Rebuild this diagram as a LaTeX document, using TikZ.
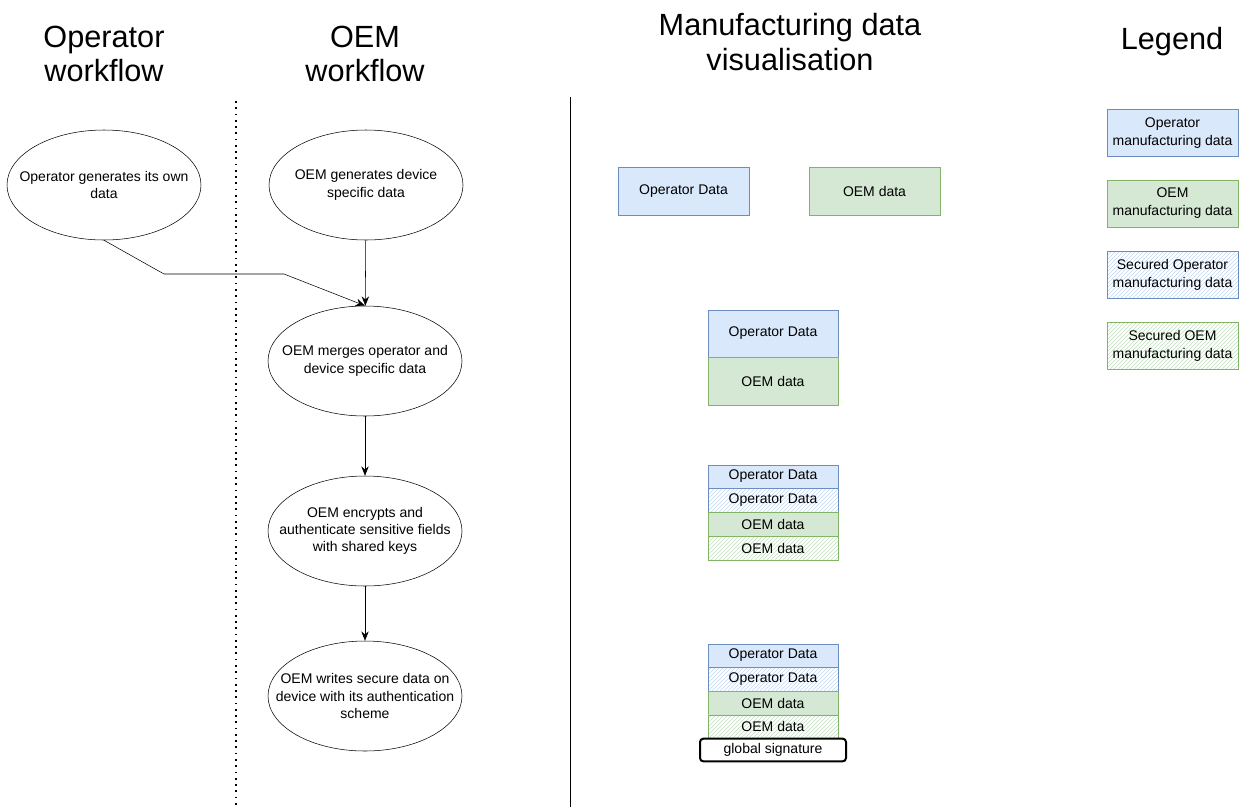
\documentclass[tikz,border=0pt]{standalone}
\usepackage{fontspec}
\setmainfont{Liberation Sans}
\usetikzlibrary{shapes.geometric}
\usetikzlibrary{arrows.meta}
\usetikzlibrary{patterns}

\definecolor{opfill}{HTML}{DAE8FC}
\definecolor{opline}{HTML}{6C8EBF}
\definecolor{oemfill}{HTML}{D5E8D4}
\definecolor{oemline}{HTML}{82B366}
\definecolor{ophatch}{HTML}{C2D5F0}
\definecolor{oemhatch}{HTML}{C3DDBF}

\tikzset{
  title/.style = {align=center, font=\fontsize{23}{26}\selectfont},
  flow/.style = {draw, ellipse, inner xsep=-20pt, inner ysep=-10pt, minimum width=145.5pt, minimum height=82.5pt,
                 align=center, font=\fontsize{10.5}{13}\selectfont},
  box/.style = {draw, inner sep=0pt, minimum width=97.5pt, align=center,
                font=\fontsize{10.5}{13.5}\selectfont},
  opbox/.style = {box, fill=opfill, draw=opline},
  oembox/.style = {box, fill=oemfill, draw=oemline},
  opsec/.style = {box, draw=opline, pattern=north east lines, pattern color=ophatch},
  oemsec/.style = {box, draw=oemline, pattern=north east lines, pattern color=oemhatch},
  link/.style = {draw, -{Stealth[length=7pt,width=5.5pt]}}
}

\begin{document}
\begin{tikzpicture}[x=0.75pt, y=-0.75pt]
  \useasboundingbox (0,0) rectangle (1244,807);

  \node[title] (t1) at (104,54) {Operator\\workflow};
  \node[title] (t2) at (365,54) {OEM\\workflow};
  \node[title] (t3) at (790,42) {Manufacturing data\\visualisation};
  \node[title] (t4) at (1172,42) {Legend};

  \draw[line width=1.2pt, dash pattern=on 1.3pt off 3.4pt] (236,101) -- (236,805);
  \draw[line width=0.75pt] (570,97) -- (570,807);

  \node[flow] (gen1) at (104,185) {Operator generates its own\\data};
  \node[flow] (gen2) at (366,185) {OEM generates device\\specific data};
  \node[flow] (merge) at (365,361) {OEM merges operator and\\device specific data};
  \node[flow] (crypt) at (365,531) {OEM encrypts and\\authenticate sensitive fields\\with shared keys};
  \node[flow] (write) at (365,696) {OEM writes secure data on\\device with its authentication\\scheme};

  \draw[link] (gen1.south) -- (164,274) -- (284,274) -- (merge.north);
  \draw[link] (gen2) -- (merge);
  \draw[link] (merge) -- (crypt);
  \draw[link] (crypt) -- (write);

  \node[opbox, minimum width=98.25pt, minimum height=36pt] (opA) at (683.5,191) {Operator Data};
  \node[oembox, minimum width=98.25pt, minimum height=36pt] (oemA) at (874.5,191) {OEM data};

  \node[opbox, minimum height=35.6pt] (opB) at (773,333.5) {Operator Data};
  \node[oembox, minimum height=36pt] (oemB) at (773,381) {OEM data};

  \node[opbox, minimum height=17.6pt] (opC) at (773,476.5) {Operator Data};
  \node[opsec, minimum height=18pt] (opsecC) at (773,500) {Operator Data};
  \node[oembox, minimum height=18pt] (oemC) at (773,524) {OEM data};
  \node[oemsec, minimum height=18pt] (oemsecC) at (773,548) {OEM data};

  \node[opbox, minimum height=17.6pt] (opD) at (773,655.5) {Operator Data};
  \node[opsec, minimum height=18pt] (opsecD) at (773,679) {Operator Data};
  \node[oembox, minimum height=18pt] (oemD) at (773,703) {OEM data};
  \node[oemsec, minimum height=17.6pt] (oemsecD) at (773,726.5) {OEM data};
  \node[box, line width=1.5pt, rounded corners=2.5pt, minimum width=109.5pt, minimum height=17pt] (sig) at (773,750) {global signature};

  \node[opbox, minimum width=98.25pt, minimum height=35pt] (legop) at (1172.5,133) {Operator\\manufacturing data};
  \node[oembox, minimum width=98.25pt, minimum height=35pt] (legoem) at (1172.5,203.5) {OEM\\manufacturing data};
  \node[opsec, minimum width=98.25pt, minimum height=35pt] (legopsec) at (1172.5,275) {Secured Operator\\manufacturing data};
  \node[oemsec, minimum width=98.25pt, minimum height=35pt] (legoemsec) at (1172.5,345.5) {Secured OEM\\manufacturing data};
\end{tikzpicture}
\end{document}
